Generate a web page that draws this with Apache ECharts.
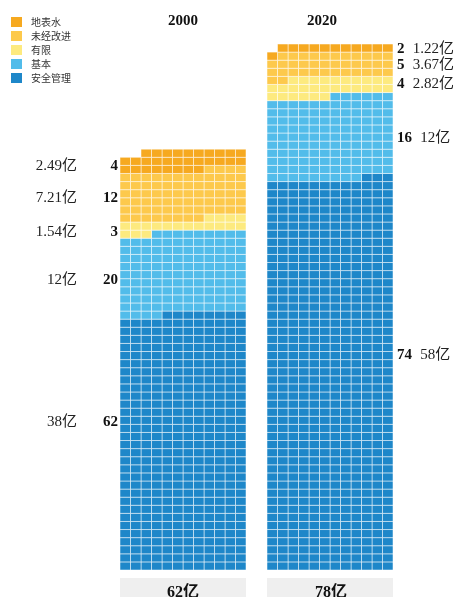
<!DOCTYPE html>
<html><head><meta charset="utf-8">
<script src="https://cdn.jsdelivr.net/npm/echarts@6/dist/echarts.min.js"></script>
<style>html,body{margin:0;padding:0;background:#fff}#c{width:462px;height:597px}</style>
</head><body><div id="c"></div>
<script>
// ---- data (bottom to top) ----
const years = ['2000', '2020'];
const categories = ['安全管理', '基本', '有限', '未经改进', '地表水'];
const legendOrder = ['地表水', '未经改进', '有限', '基本', '安全管理'];
const cells2000 = [380, 121, 19, 72, 30];   // squares drawn per category
const cells2020 = [579, 123, 28, 37, 12];
const pct2000 = ['62', '20', '3', '12', '4'];
const pct2020 = ['74', '16', '4', '5', '2'];
const pop2000 = ['38亿', '12亿', '1.54亿', '7.21亿', '2.49亿'];
const pop2020 = ['58亿', '12亿', '2.82亿', '3.67亿', '1.22亿'];
const totals = ['62亿', '78亿'];

// ---- styles / layout ----
const colors = ['#1e87c9', '#52bcea', '#fdea7f', '#fdc94c', '#f6a920'];
const COLS = 12;
const barOffsets = [0, 14];            // x offset (in cells) of each bar
const labelNudge = [[-20, 7, 6, 3, 5], [-20, 0, -3, 0, 0]];
const SERIF = '"Liberation Serif","Times New Roman","Noto Sans CJK SC",serif';

const allCells = [cells2000, cells2020];
const allPct = [pct2000, pct2020];
const allPop = [pop2000, pop2020];

// build per-category square data
const catData = categories.map(() => []);
const labelData = [];
allCells.forEach((counts, b) => {
  let idx = 0;
  counts.forEach((n, k) => {
    const start = idx;
    for (let j = 0; j < n; j++) {
      const row = Math.floor(idx / COLS);
      const colFromRight = idx % COLS;
      catData[k].push([barOffsets[b] + (COLS - 1 - colFromRight), row, k]);
      idx++;
    }
    const mid = (start + idx) / 2 / COLS;
    labelData.push([b, mid, k]);
  });
});

const chart = echarts.init(document.getElementById('c'));

const squareSeries = categories.map((name, k) => ({
  name: name,
  type: 'custom',
  itemStyle: { color: colors[k] },
  data: catData[k],
  renderItem: function (params, api) {
    const x = api.value(0), y = api.value(1);
    const p0 = api.coord([x, y + 1]);
    const p1 = api.coord([x + 1, y]);
    return {
      type: 'rect',
      shape: { x: p0[0], y: p0[1], width: p1[0] - p0[0], height: p1[1] - p0[1] },
      style: { fill: colors[k], stroke: 'rgba(255,255,255,0.5)', lineWidth: 1 }
    };
  }
}));

const labelSeries = {
  type: 'custom',
  silent: true,
  data: labelData,
  renderItem: function (params, api) {
    const b = api.value(0), mid = api.value(1), k = api.value(2);
    const pt = api.coord([0, mid]);
    const y = pt[1] + labelNudge[b][k];
    if (b === 0) {
      const left = api.coord([barOffsets[0], 0])[0];
      return {
        type: 'group',
        children: [
          { type: 'text', x: left - 2, y: y,
            style: { text: allPct[b][k], align: 'right', verticalAlign: 'middle',
                     font: 'bold 15px ' + SERIF, fill: '#111' } },
          { type: 'text', x: left - 43, y: y,
            style: { text: allPop[b][k], align: 'right', verticalAlign: 'middle',
                     font: '15px ' + SERIF, fill: '#222' } }
        ]
      };
    } else {
      const right = api.coord([barOffsets[1] + COLS, 0])[0];
      return {
        type: 'text', x: right + 4, y: y,
        style: {
          text: '{b|' + allPct[b][k] + '} {n|' + allPop[b][k] + '}',
          align: 'left', verticalAlign: 'middle',
          rich: {
            b: { font: 'bold 15px ' + SERIF, fill: '#111', padding: [0, 5, 0, 0] },
            n: { font: '15px ' + SERIF, fill: '#222' }
          }
        }
      };
    }
  }
};

chart.setOption({
  animation: false,
  backgroundColor: '#fff',
  legend: {
    data: legendOrder,
    orient: 'vertical',
    left: 6, top: 12,
    itemWidth: 11, itemHeight: 10, itemGap: 4,
    icon: 'rect',
    textStyle: { fontSize: 10, color: '#333', fontFamily: '"Noto Sans CJK SC", sans-serif', padding: [0, 0, 0, 4] }
  },
  grid: { left: 120, width: 273, top: 44, bottom: 27 },
  xAxis: { type: 'value', min: 0, max: 26, show: false },
  yAxis: { type: 'value', min: 0, max: 65, show: false },
  series: squareSeries.concat([labelSeries]),
  graphic: [
    { type: 'text', x: 183, y: 21, style: { text: years[0], align: 'center', verticalAlign: 'middle', font: 'bold 15px ' + SERIF, fill: '#111' } },
    { type: 'text', x: 322, y: 21, style: { text: years[1], align: 'center', verticalAlign: 'middle', font: 'bold 15px ' + SERIF, fill: '#111' } },
    { type: 'rect', shape: { x: 120, y: 578, width: 126, height: 30 }, style: { fill: '#efefef' } },
    { type: 'rect', shape: { x: 267, y: 578, width: 126, height: 30 }, style: { fill: '#efefef' } },
    { type: 'text', x: 183, y: 593, style: { text: totals[0], align: 'center', verticalAlign: 'middle', font: 'bold 16px ' + SERIF, fill: '#111' } },
    { type: 'text', x: 331, y: 593, style: { text: totals[1], align: 'center', verticalAlign: 'middle', font: 'bold 16px ' + SERIF, fill: '#111' } }
  ]
});
</script>
</body></html>
